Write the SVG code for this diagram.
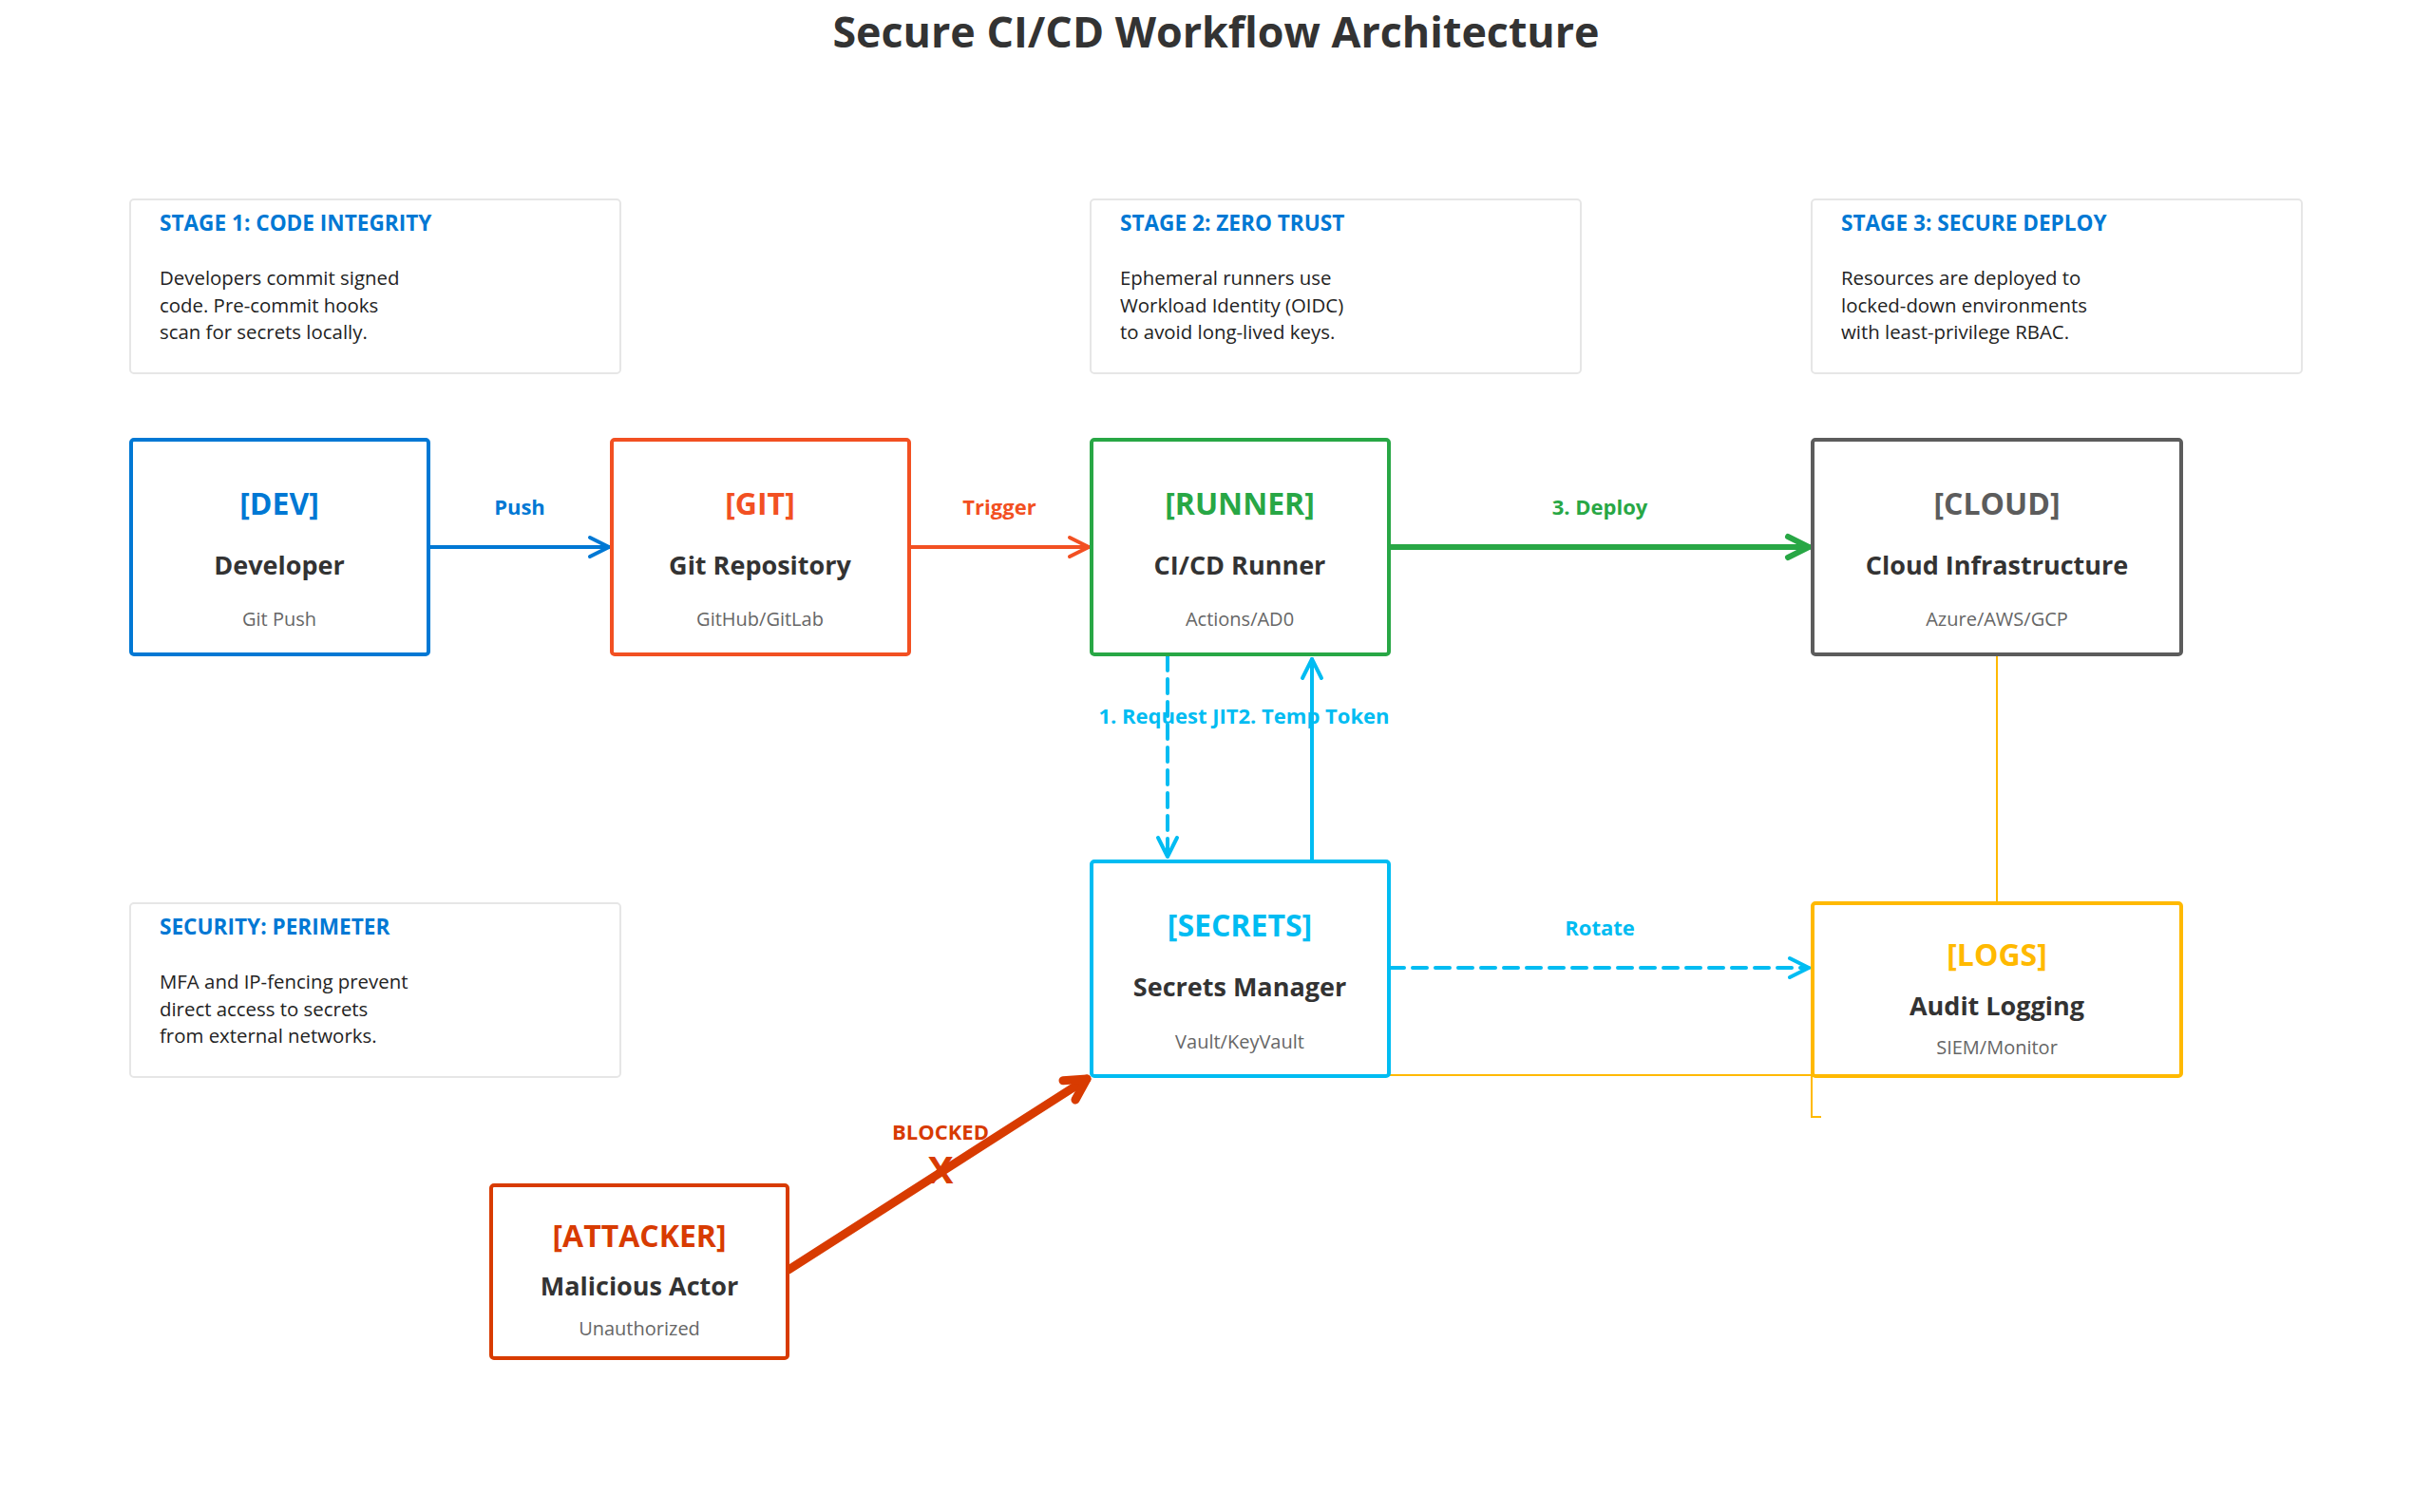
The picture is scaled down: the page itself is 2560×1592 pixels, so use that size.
<svg xmlns="http://www.w3.org/2000/svg" width="2560" height="1592" viewBox="0 0 2560 1592">
<style>
text{font-family:"Open Sans","Noto Sans","Liberation Sans",sans-serif}
.title{font-size:44.8px;font-weight:700;fill:#333;text-anchor:middle}
.card{fill:#fff;stroke:#e6e6e6;stroke-width:2}
.ctitle{font-size:22.6px;font-weight:700;fill:#0078d4}
.cbody{font-size:20.4px;fill:#222}
.node{fill:#fff;stroke-width:4}
.tag{font-size:32px;font-weight:700;text-anchor:middle}
.name{font-size:27px;font-weight:700;fill:#333;text-anchor:middle}
.sub{font-size:20px;fill:#666;text-anchor:middle}
.lbl{font-size:22px;font-weight:700;text-anchor:middle}
.edge{fill:none;stroke-linecap:round;stroke-linejoin:round}
</style>
<defs>
<marker id="mBlue" markerUnits="userSpaceOnUse" markerWidth="30" markerHeight="30" refX="23" refY="12" orient="auto" overflow="visible"><path d="M3,2 L23,12 L3,22" fill="none" stroke="#0078d4" stroke-width="4" stroke-linecap="round" stroke-linejoin="round"/></marker>
<marker id="mRed" markerUnits="userSpaceOnUse" markerWidth="30" markerHeight="30" refX="23" refY="12" orient="auto" overflow="visible"><path d="M3,2 L23,12 L3,22" fill="none" stroke="#f25022" stroke-width="4" stroke-linecap="round" stroke-linejoin="round"/></marker>
<marker id="mGreen" markerUnits="userSpaceOnUse" markerWidth="34" markerHeight="34" refX="26" refY="14" orient="auto" overflow="visible"><path d="M4,3 L26,14 L4,25" fill="none" stroke="#28a745" stroke-width="6" stroke-linecap="round" stroke-linejoin="round"/></marker>
<marker id="mCyan" markerUnits="userSpaceOnUse" markerWidth="30" markerHeight="30" refX="23" refY="12" orient="auto" overflow="visible"><path d="M3,2 L23,12 L3,22" fill="none" stroke="#00bcf2" stroke-width="4" stroke-dasharray="none" stroke-linecap="round" stroke-linejoin="round"/></marker>
<marker id="mAtk" markerUnits="userSpaceOnUse" markerWidth="40" markerHeight="40" refX="28" refY="16" orient="auto" overflow="visible"><path d="M6,4 L28,16 L6,28" fill="none" stroke="#d83b01" stroke-width="9" stroke-linecap="round" stroke-linejoin="round"/></marker>
</defs>
<rect width="2560" height="1592" fill="#fff"/>
<text class="title" x="1280" y="50">Secure CI/CD Workflow Architecture</text>

<g id="stage1">
<rect class="card" x="137" y="210" width="516" height="183" rx="4"/>
<text class="ctitle" x="168" y="243">STAGE 1: CODE INTEGRITY</text>
<text class="cbody" x="168" y="300">Developers commit signed</text>
<text class="cbody" x="168" y="328.5">code. Pre-commit hooks</text>
<text class="cbody" x="168" y="357">scan for secrets locally.</text>
</g>
<g id="stage2">
<rect class="card" x="1148" y="210" width="516" height="183" rx="4"/>
<text class="ctitle" x="1179" y="243">STAGE 2: ZERO TRUST</text>
<text class="cbody" x="1179" y="300">Ephemeral runners use</text>
<text class="cbody" x="1179" y="328.5">Workload Identity (OIDC)</text>
<text class="cbody" x="1179" y="357">to avoid long-lived keys.</text>
</g>
<g id="stage3">
<rect class="card" x="1907" y="210" width="516" height="183" rx="4"/>
<text class="ctitle" x="1938" y="243">STAGE 3: SECURE DEPLOY</text>
<text class="cbody" x="1938" y="300">Resources are deployed to</text>
<text class="cbody" x="1938" y="328.5">locked-down environments</text>
<text class="cbody" x="1938" y="357">with least-privilege RBAC.</text>
</g>
<g id="perimeter">
<rect class="card" x="137" y="951" width="516" height="183" rx="4"/>
<text class="ctitle" x="168" y="984">SECURITY: PERIMETER</text>
<text class="cbody" x="168" y="1041">MFA and IP-fencing prevent</text>
<text class="cbody" x="168" y="1069.5">direct access to secrets</text>
<text class="cbody" x="168" y="1098">from external networks.</text>
</g>

<g id="connectors">
<path class="edge" d="M452,576 H641" stroke="#0078d4" stroke-width="4" marker-end="url(#mBlue)"/>
<text class="lbl" x="547" y="542" fill="#0078d4">Push</text>
<path class="edge" d="M959,576 H1146" stroke="#f25022" stroke-width="4" marker-end="url(#mRed)"/>
<text class="lbl" x="1052" y="542" fill="#f25022">Trigger</text>
<path class="edge" d="M1463,576 H1904" stroke="#28a745" stroke-width="6" marker-end="url(#mGreen)"/>
<text class="lbl" x="1684" y="542" fill="#28a745">3. Deploy</text>
<path class="edge" d="M1229,691 V902" stroke="#00bcf2" stroke-width="4" stroke-dasharray="15 9" marker-end="url(#mCyan)"/>
<path class="edge" d="M1381,906 V694" stroke="#00bcf2" stroke-width="4" marker-end="url(#mCyan)"/>
<text class="lbl" x="1230" y="762" fill="#00bcf2">1. Request JIT</text>
<text class="lbl" x="1383" y="762" fill="#00bcf2">2. Temp Token</text>
<path class="edge" d="M1463,1019 H1904" stroke="#00bcf2" stroke-width="4" stroke-dasharray="15 9" marker-end="url(#mCyan)"/>
<text class="lbl" x="1684" y="985" fill="#00bcf2">Rotate</text>
<path d="M2102,691 V950" fill="none" stroke="#ffb900" stroke-width="2"/>
<path d="M1461,1132 H1907 V1176 H1917" fill="none" stroke="#ffb900" stroke-width="2"/>
<path class="edge" d="M830,1337 L1144,1136" stroke="#d83b01" stroke-width="9" marker-end="url(#mAtk)"/>
<text class="lbl" x="990" y="1200" fill="#d83b01">BLOCKED</text>
<text x="990" y="1246" font-size="40" font-weight="700" fill="#d83b01" text-anchor="middle">X</text>
</g>

<g id="dev">
<rect class="node" x="138" y="463" width="313" height="226" rx="3" stroke="#0078d4"/>
<text class="tag" x="294" y="542" fill="#0078d4">[DEV]</text>
<text class="name" x="294" y="605">Developer</text>
<text class="sub" x="294" y="659">Git Push</text>
</g>
<g id="git">
<rect class="node" x="644" y="463" width="313" height="226" rx="3" stroke="#f25022"/>
<text class="tag" x="800" y="542" fill="#f25022">[GIT]</text>
<text class="name" x="800" y="605">Git Repository</text>
<text class="sub" x="800" y="659">GitHub/GitLab</text>
</g>
<g id="runner">
<rect class="node" x="1149" y="463" width="313" height="226" rx="3" stroke="#28a745"/>
<text class="tag" x="1305" y="542" fill="#28a745">[RUNNER]</text>
<text class="name" x="1305" y="605">CI/CD Runner</text>
<text class="sub" x="1305" y="659">Actions/AD0</text>
</g>
<g id="cloud">
<rect class="node" x="1908" y="463" width="388" height="226" rx="3" stroke="#5c5c5c"/>
<text class="tag" x="2102" y="542" fill="#5c5c5c">[CLOUD]</text>
<text class="name" x="2102" y="605">Cloud Infrastructure</text>
<text class="sub" x="2102" y="659">Azure/AWS/GCP</text>
</g>
<g id="secrets">
<rect class="node" x="1149" y="907" width="313" height="226" rx="3" stroke="#00bcf2"/>
<text class="tag" x="1305" y="986" fill="#00bcf2">[SECRETS]</text>
<text class="name" x="1305" y="1049">Secrets Manager</text>
<text class="sub" x="1305" y="1104">Vault/KeyVault</text>
</g>
<g id="logs">
<rect class="node" x="1908" y="951" width="388" height="182" rx="3" stroke="#ffb900"/>
<text class="tag" x="2102" y="1017" fill="#ffb900">[LOGS]</text>
<text class="name" x="2102" y="1069">Audit Logging</text>
<text class="sub" x="2102" y="1110">SIEM/Monitor</text>
</g>
<g id="attacker">
<rect class="node" x="517" y="1248" width="312" height="182" rx="3" stroke="#d83b01"/>
<text class="tag" x="673" y="1313" fill="#d83b01">[ATTACKER]</text>
<text class="name" x="673" y="1364">Malicious Actor</text>
<text class="sub" x="673" y="1406">Unauthorized</text>
</g>
</svg>
